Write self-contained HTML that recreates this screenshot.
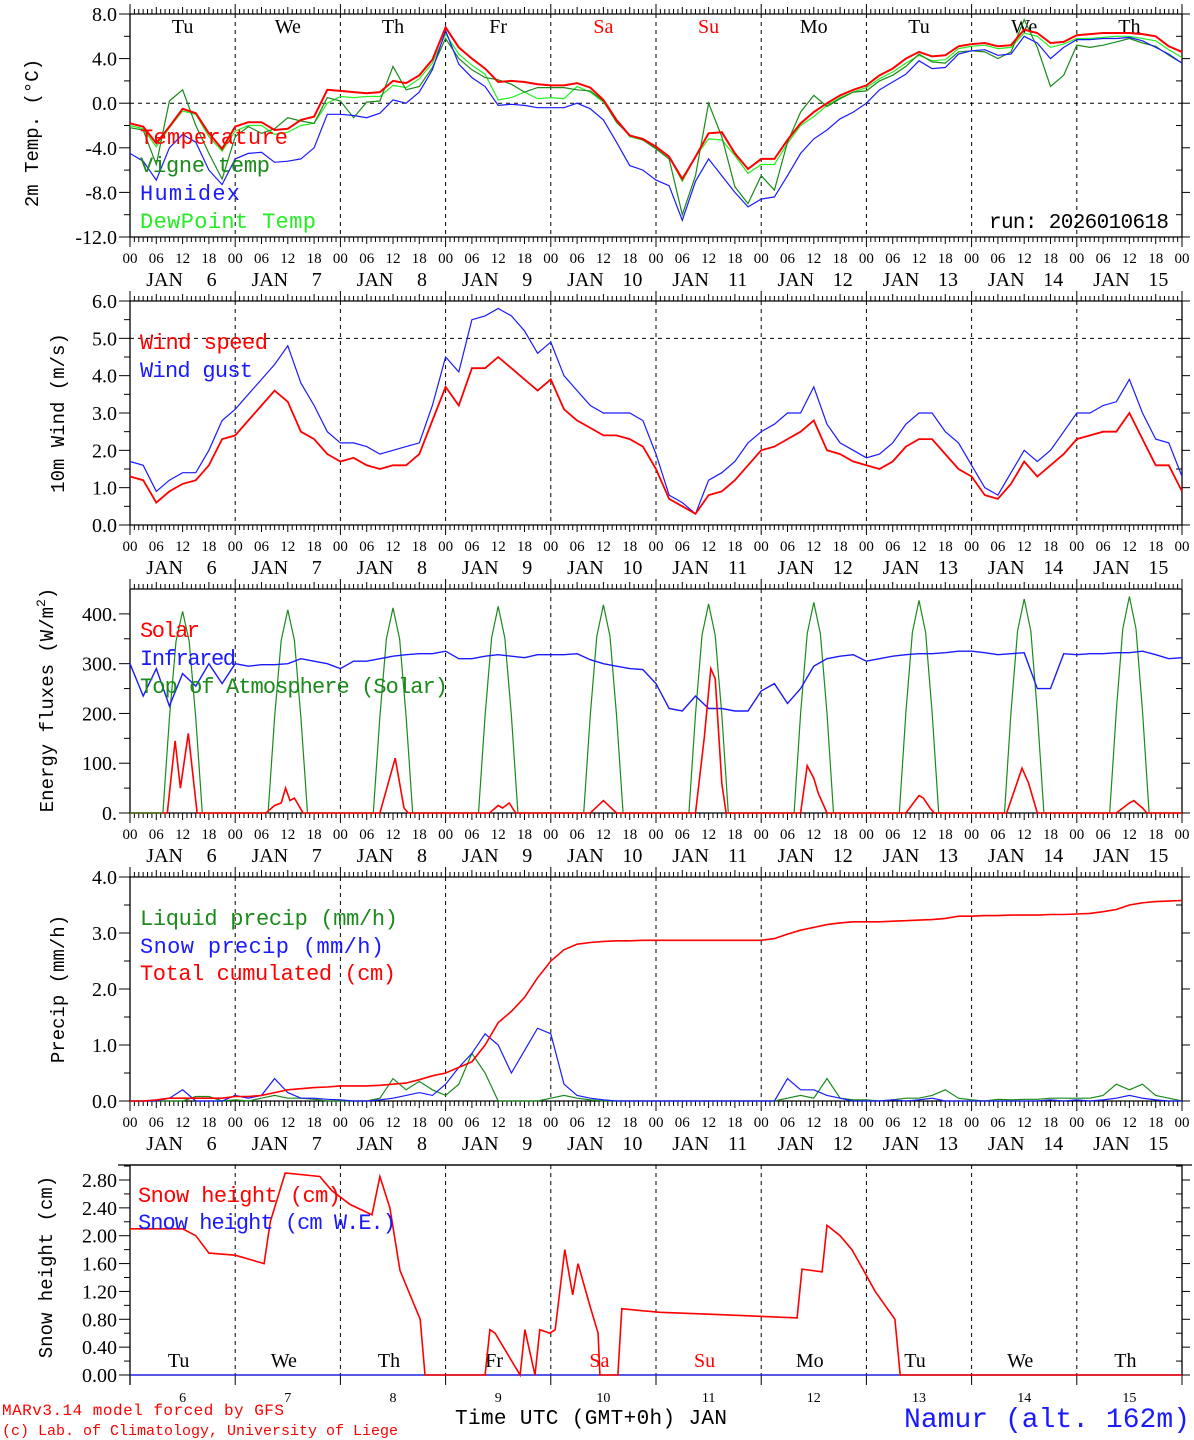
<!DOCTYPE html>
<html><head><meta charset="utf-8"><style>
html,body{margin:0;padding:0;background:#fff;}
svg{display:block;font-family:"Liberation Serif","DejaVu Serif",serif;}
.mono{font-family:"Liberation Mono","DejaVu Sans Mono",monospace;}
</style></head><body>
<svg id="c" width="1194" height="1440" viewBox="0 0 1194 1440"></svg>
<script>
// ===== DATA (3-hourly, Jan 6 00h .. Jan 16 00h, 81 values) =====
const days = [6,7,8,9,10,11,12,13,14,15];
const weekdays = ["Tu","We","Th","Fr","Sa","Su","Mo","Tu","We","Th"];
const tempRed = [-1.8,-2.1,-3.6,-2.1,-0.5,-0.9,-2.7,-4.1, -2.1,-1.7,-1.7,-2.4,-2.3,-1.5,-1.2,1.2, 1.1,1.0,0.9,1.0,2.0,1.8,2.5,3.9, 6.8,5.0,4.0,3.1,1.9,2.0,1.9,1.7, 1.6,1.6,1.8,1.4,0.3,-1.5,-2.9,-3.2, -3.9,-4.8,-6.8,-4.8,-2.7,-2.6,-4.5,-5.9, -5.0,-5.0,-3.3,-1.8,-0.8,0.0,0.7,1.2, 1.6,2.5,3.1,4.0,4.6,4.2,4.3,5.1, 5.3,5.4,5.1,5.2,6.6,6.3,5.4,5.5, 6.1,6.2,6.3,6.3,6.3,6.2,6.0,5.1, 4.6];
const tempVigne = [-2.2,-2.4,-5.5,0.2,1.2,-2.0,-4.5,-6.8, -3.0,-2.1,-2.7,-2.3,-1.3,-1.6,-1.8,0.5, 0.2,-1.3,0.1,0.2,3.3,1.2,1.5,3.2, 5.8,4.0,3.0,2.3,2.1,1.7,1.0,1.4, 1.4,1.4,1.2,1.1,0.2,-1.7,-2.9,-3.3, -4.1,-5.0,-10.0,-6.5,0.0,-3.0,-7.5,-9.0, -6.5,-7.8,-3.5,-0.8,0.7,-0.3,0.4,1.0, 1.1,2.0,2.5,3.3,4.4,3.7,3.6,4.6, 4.7,4.6,4.0,4.6,7.5,5.0,1.5,2.5, 5.2,5.0,5.2,5.5,5.8,5.4,5.1,4.3, 3.6];
const humidex = [-4.5,-5.2,-6.9,-4.0,-2.8,-3.5,-6.0,-7.3, -5.0,-4.5,-4.4,-5.3,-5.2,-5.0,-4.0,-1.0, -1.0,-1.1,-1.3,-0.9,0.3,0.0,1.0,3.0, 6.5,3.5,2.3,1.5,-0.2,-0.1,-0.2,-0.4, -0.4,-0.4,0.0,-0.5,-1.5,-3.5,-5.6,-6.0, -6.9,-7.4,-10.5,-7.0,-5.0,-6.5,-8.0,-9.3, -8.6,-8.4,-6.5,-4.5,-3.2,-2.4,-1.4,-0.8, 0.0,1.2,1.9,2.6,3.8,3.1,3.2,4.4, 4.7,4.8,4.3,4.4,6.0,5.4,4.0,5.0, 5.7,5.7,5.8,5.8,5.9,5.6,5.0,4.4, 3.6];
const dewPoint = [-2.0,-2.3,-3.9,-2.2,-0.7,-1.0,-3.0,-4.3, -2.5,-2.0,-2.0,-2.8,-2.6,-2.0,-1.8,0.0, 0.6,0.5,0.6,0.6,1.6,1.4,2.2,3.6, 6.2,4.4,3.4,2.6,0.3,0.5,1.0,0.4, 0.5,0.4,1.5,1.0,0.1,-1.5,-3.0,-3.3, -4.0,-4.8,-7.0,-4.8,-3.2,-3.3,-4.7,-6.3, -5.5,-5.5,-3.6,-2.0,-1.2,-0.2,0.5,1.0, 1.4,2.2,2.8,3.6,4.3,3.8,3.9,4.9, 5.1,5.2,4.9,5.0,6.3,6.0,5.0,5.3, 5.8,5.8,5.9,6.0,6.0,5.8,5.6,4.8, 4.1];
const windSpeed = [1.3,1.2,0.6,0.9,1.1,1.2,1.6,2.3, 2.4,2.8,3.2,3.6,3.3,2.5,2.3,1.9, 1.7,1.8,1.6,1.5,1.6,1.6,1.9,2.8, 3.7,3.2,4.2,4.2,4.5,4.2,3.9,3.6, 3.9,3.1,2.8,2.6,2.4,2.4,2.3,2.1, 1.5,0.7,0.5,0.3,0.8,0.9,1.2,1.6, 2.0,2.1,2.3,2.5,2.8,2.0,1.9,1.7, 1.6,1.5,1.7,2.1,2.3,2.3,1.9,1.5, 1.3,0.8,0.7,1.1,1.7,1.3,1.6,1.9, 2.3,2.4,2.5,2.5,3.0,2.3,1.6,1.6, 0.9];
const windGust = [1.7,1.6,0.9,1.2,1.4,1.4,2.0,2.8, 3.1,3.5,3.9,4.3,4.8,3.8,3.2,2.5, 2.2,2.2,2.1,1.9,2.0,2.1,2.2,3.2, 4.5,4.1,5.5,5.6,5.8,5.6,5.2,4.6, 4.9,4.0,3.6,3.2,3.0,3.0,3.0,2.8, 1.9,0.8,0.6,0.3,1.2,1.4,1.7,2.2, 2.5,2.7,3.0,3.0,3.7,2.7,2.2,2.0, 1.8,1.9,2.2,2.7,3.0,3.0,2.5,2.2, 1.6,1.0,0.8,1.4,2.0,1.7,2.0,2.5, 3.0,3.0,3.2,3.3,3.9,3.0,2.3,2.2, 1.3];
const infrared = [300,235,290,215,280,255,300,260, 300,295,298,298,300,310,305,300, 290,305,305,310,315,318,320,320, 325,310,310,315,318,315,312,318, 318,318,320,308,300,295,290,288, 260,210,205,235,210,210,205,205, 245,260,220,250,295,310,315,318, 305,310,315,318,320,320,322,325, 325,322,318,320,322,250,250,320, 318,320,320,322,322,325,318,310, 312];
const toaHours = [7.5,9,10.5,12,13.5,15,16.5, 31.5,33,34.5,36,37.5,39,40.5, 55.5,57,58.5,60,61.5,63,64.5, 79.5,81,82.5,84,85.5,87,88.5, 103.5,105,106.5,108,109.5,111,112.5, 127.5,129,130.5,132,133.5,135,136.5, 151.5,153,154.5,156,157.5,159,160.5, 175.5,177,178.5,180,181.5,183,184.5, 199.5,201,202.5,204,205.5,207,208.5, 223.5,225,226.5,228,229.5,231,232.5];
const toaValues = [0,190,345,405,345,190,0, 0,192,347,408,347,192,0, 0,194,350,412,350,194,0, 0,196,352,415,352,196,0, 0,197,355,418,355,197,0, 0,198,357,420,357,198,0, 0,200,360,423,360,200,0, 0,202,363,427,363,202,0, 0,203,366,430,366,203,0, 0,205,370,435,370,205,0];
const solarHours = [0,8.5,10.3,11.5,13.3,15.3, 31,33,34.5,35.5,36.5,37.5,39.5, 57,60.5,62.5,63.5, 82,84,85,86.5,88, 105,108,111, 129,131,132.5,133.5,135,136, 153,154.5,156,157,158.5,159, 177,180,181,182.5,183.5, 200,203.5,205,207, 225,228,229,231,232,240];
const solarValues = [0,0,145,50,160,0, 0,15,20,50,25,30,0, 0,110,10,0, 0,15,10,20,0, 0,25,0, 0,150,290,270,60,0, 0,95,70,40,10,0, 0,35,30,10,0, 0,90,60,0, 0,20,25,10,0,0];
const liquidPrecip = [0,0,0,0,0,0.08,0.08,0, 0.02,0,0.05,0.1,0.05,0.05,0.03,0, 0,0,0,0.05,0.4,0.2,0.35,0.2, 0.1,0.3,0.85,0.5,0,0,0,0, 0.05,0.1,0.05,0.02,0,0,0,0, 0,0,0,0,0,0,0,0, 0,0,0.05,0.1,0.05,0.4,0.05,0.02, 0.02,0,0.02,0.05,0.05,0.1,0.2,0.05, 0.02,0,0.03,0.02,0.03,0.03,0.05,0.05, 0.05,0.05,0.1,0.3,0.2,0.3,0.1,0.05, 0];
const snowPrecip = [0,0,0,0.05,0.2,0,0,0, 0.1,0.05,0.1,0.4,0.15,0.05,0.05,0.03, 0.02,0,0,0.02,0.05,0.1,0.15,0.1, 0.3,0.6,0.85,1.2,1.0,0.5,0.9,1.3, 1.2,0.3,0.1,0.05,0.02,0,0,0, 0,0,0,0,0,0,0,0, 0,0,0.4,0.2,0.2,0.1,0.05,0, 0,0,0.02,0,0.02,0.05,0,0, 0,0,0,0,0,0,0.02,0, 0.02,0,0.02,0.05,0.1,0.05,0.02,0, 0];
const totalCum = [0,0,0.02,0.05,0.05,0.05,0.05,0.05, 0.08,0.08,0.1,0.15,0.2,0.22,0.24,0.25, 0.27,0.27,0.27,0.28,0.3,0.32,0.38,0.45, 0.5,0.6,0.7,1.0,1.4,1.6,1.85,2.2, 2.5,2.7,2.8,2.83,2.85,2.86,2.86,2.87, 2.87,2.87,2.87,2.87,2.87,2.87,2.87,2.87, 2.87,2.9,2.98,3.05,3.1,3.15,3.18,3.2, 3.2,3.2,3.21,3.22,3.23,3.24,3.26,3.3, 3.3,3.31,3.31,3.32,3.32,3.32,3.33,3.33, 3.34,3.35,3.38,3.42,3.5,3.54,3.56,3.57, 3.58];
const snowHours = [0,12,15,18,24,30.6,32,35.4,43.3,46,50.2,55.2,57,59.3,61.6,66.2,67.3,81,82.1,83.3,89,90.1,92.4,93.5,95.8,97,99.2,101,102.2,104.9,106.8,107.2,111.3,112.2,120.9,133.5,152.2,153.3,157.9,159,162,164.7,166.5,170,174.5,175.7,240];
const snowHeight = [2.1,2.1,2.0,1.75,1.72,1.6,2.2,2.9,2.85,2.65,2.45,2.3,2.85,2.4,1.5,0.8,0,0,0.65,0.6,0,0.65,0,0.65,0.6,0.65,1.8,1.15,1.6,1.0,0.6,0,0,0.95,0.9,0.87,0.82,1.52,1.48,2.15,2.0,1.8,1.6,1.2,0.8,0,0];
const snowWE = [0,0];
const snowWEHours = [0,240];

// ===== DRAWING =====
const NS = "http://www.w3.org/2000/svg";
const svg = document.getElementById("c");
const X0 = 130, X1 = 1182;
function xH(h){ return X0 + h*(X1-X0)/240; }
function mk(tag, attrs, parent){
  const e = document.createElementNS(NS, tag);
  for (const k in attrs) e.setAttribute(k, attrs[k]);
  (parent||svg).appendChild(e);
  return e;
}
function txt(x,y,s,size,fill,anchor,parent){
  const t = mk("text",{x:x,y:y,"font-size":size,fill:fill||"#000","text-anchor":anchor||"start"},parent);
  t.textContent = s;
  return t;
}
function yScale(top,bottom,vmin,vmax){ return v => bottom - (v-vmin)*(bottom-top)/(vmax-vmin); }

function series3h(g, vals, ys, color, w, name){
  let d = "";
  vals.forEach((v,i)=>{ d += (i?"L":"M") + xH(i*3).toFixed(1) + "," + ys(v).toFixed(1); });
  const p = mk("path",{d:d,fill:"none",stroke:color,"stroke-width":w},g);
  
  
}
function seriesXY(g, hrs, vals, ys, color, w, name){
  let d = "";
  vals.forEach((v,i)=>{ d += (i?"L":"M") + xH(hrs[i]).toFixed(1) + "," + ys(v).toFixed(1); });
  const p = mk("path",{d:d,fill:"none",stroke:color,"stroke-width":w},g);
  
  
}

function frame(g, top, bottom, ys, majors, fmt, minors, timeTicks){
  for (let d=1; d<10; d++){
    const l = mk("line",{x1:xH(d*24),x2:xH(d*24),y1:top,y2:bottom,stroke:"#000","stroke-width":1,"stroke-dasharray":"4,4"},g);
    
    
  }
  mk("line",{x1:X0,x2:X1,y1:top,y2:top,stroke:"#000","stroke-width":1.3},g);
  mk("line",{x1:X0,x2:X1,y1:bottom,y2:bottom,stroke:"#000","stroke-width":1.3},g);
  mk("line",{x1:X0,x2:X0,y1:top,y2:bottom+(timeTicks?0:10),stroke:"#000","stroke-width":1.3},g);
  mk("line",{x1:X1,x2:X1,y1:top,y2:bottom,stroke:"#000","stroke-width":1.3},g);
  if (timeTicks){
    for (let h=0; h<=240; h++){
      const L = h%24===0 ? 10 : (h%6===0 ? 7 : 5);
      mk("line",{x1:xH(h),x2:xH(h),y1:top,y2:top-L,stroke:"#000","stroke-width":1},g);
      mk("line",{x1:xH(h),x2:xH(h),y1:bottom,y2:bottom+L,stroke:"#000","stroke-width":1},g);
    }
  } else {
    mk("line",{x1:118,x2:X1+10,y1:top,y2:top,stroke:"#000","stroke-width":1.3},g);
    for (let d=0; d<=10; d++) mk("line",{x1:xH(d*24),x2:xH(d*24),y1:bottom,y2:bottom+10,stroke:"#000","stroke-width":1},g);
  }
  const ax = mk("g",{},g);
  
  
  majors.forEach(v=>{
    const y = ys(v);
    mk("line",{x1:X0-11,x2:X0,y1:y,y2:y,stroke:"#000","stroke-width":1},ax);
    mk("line",{x1:X1,x2:X1+8,y1:y,y2:y,stroke:"#000","stroke-width":1},ax);
    const t = txt(X0-13, y+7, fmt(v), 20, "#000", "end", ax);
    
    
  });
  minors.forEach(v=>{
    const y = ys(v);
    mk("line",{x1:X0-6,x2:X0,y1:y,y2:y,stroke:"#000","stroke-width":1},ax);
    mk("line",{x1:X1-6,x2:X1,y1:y,y2:y,stroke:"#000","stroke-width":1},ax);
  });
}
function timeLabels(g, bottom){
  const xa = mk("g",{},g);
  
  
  for (let h=0; h<=240; h+=6){
    txt(xH(h), bottom+26, String(h%24).padStart(2,"0"), 15, "#000", "middle", xa);
  }
  days.forEach((d,i)=>{
    const cx = xH(i*24+12);
    txt(cx-18, bottom+49, "JAN", 20, "#000", "middle", xa);
    txt(cx+29, bottom+49, String(d), 20, "#000", "middle", xa);
  });
}
function yTitle(g, x, cy, s){
  const t = mk("text",{x:0,y:0,"font-size":19,fill:"#000","text-anchor":"middle",class:"mono",transform:`translate(${x},${cy}) rotate(-90)`},g);
  t.textContent = s;
  
  
  return t;
}
function legend(g, x, y, s, color, w){
  const t = txt(x, y, s, 22, color, "start", g);
  t.setAttribute("class","mono");
  t.setAttribute("textLength", w);
  
  
}
function mkPanel(name){
  const g = mk("g",{});
  
  
  return g;
}

// ---- Panel 1: temperature ----
(function(){
  const g = mkPanel("temperature-panel");
  const top=14,bottom=237, ys=yScale(top,bottom,-12,8);
  mk("line",{x1:X0,x2:X1,y1:ys(0),y2:ys(0),stroke:"#000","stroke-width":1,"stroke-dasharray":"4,4"},g);
  frame(g,top,bottom,ys,[8,4,0,-4,-8,-12],v=>v.toFixed(1),[6,2,-2,-6,-10],true);
  weekdays.forEach((w,i)=>{
    const t = txt(xH(i*24+12), 33, w, 20, (w==="Sa"||w==="Su")?"#ff0000":"#000", "middle", g);
    
    
  });
  series3h(g, dewPoint, ys, "#22ee22", 1.2, "dewpoint-line");
  series3h(g, tempVigne, ys, "#1a8a1a", 1.2, "vigne-temp-line");
  series3h(g, humidex, ys, "#1a1aff", 1.2, "humidex-line");
  series3h(g, tempRed, ys, "#ff0000", 2, "temperature-line");
  legend(g,140,144,"Temperature","#ff0000",148);
  legend(g,140,172,"Vigne temp","#1a8a1a",130);
  legend(g,140,200,"Humidex","#1a1aff",100);
  legend(g,140,228,"DewPoint Temp","#22ee22",176);
  const r = txt(1169,228,"run: 2026010618",21,"#000","end",g);
  r.setAttribute("class","mono");
  r.setAttribute("textLength",180);
  
  
  yTitle(g,38,133,"2m Temp. (°C)");
  timeLabels(g,bottom);
})();

// ---- Panel 2: wind ----
(function(){
  const g = mkPanel("wind-panel");
  const top=301,bottom=525, ys=yScale(top,bottom,0,6);
  mk("line",{x1:X0,x2:X1,y1:ys(5),y2:ys(5),stroke:"#000","stroke-width":1,"stroke-dasharray":"4,4"},g);
  frame(g,top,bottom,ys,[0,1,2,3,4,5,6],v=>v.toFixed(1),[0.5,1.5,2.5,3.5,4.5,5.5],true);
  series3h(g, windGust, ys, "#1a1aff", 1.2, "wind-gust-line");
  series3h(g, windSpeed, ys, "#ff0000", 1.8, "wind-speed-line");
  legend(g,140,349,"Wind speed","#ff0000",128);
  legend(g,140,377,"Wind gust","#1a1aff",113);
  yTitle(g,64,413,"10m Wind (m/s)");
  timeLabels(g,bottom);
})();

// ---- Panel 3: energy ----
(function(){
  const g = mkPanel("energy-panel");
  const top=589,bottom=813, ys=yScale(top,bottom,0,450);
  frame(g,top,bottom,ys,[0,100,200,300,400],v=>v.toFixed(0)+".",[50,150,250,350],true);
  seriesXY(g, toaHours.concat([240]), toaValues.concat([0]), ys, "#1a8a1a", 1.2, "toa-solar-line");
  series3h(g, infrared, ys, "#1a1aff", 1.4, "infrared-line");
  seriesXY(g, solarHours, solarValues, ys, "#ff0000", 1.6, "solar-line");
  mk("line",{x1:X0,x2:xH(7.5),y1:ys(0),y2:ys(0),stroke:"#1a8a1a","stroke-width":1.2},g);
  legend(g,140,637,"Solar","#ff0000",60);
  legend(g,140,665,"Infrared","#1a1aff",96);
  legend(g,140,693,"Top of Atmosphere (Solar)","#1a8a1a",308);
  const t = mk("text",{x:0,y:0,"font-size":19,fill:"#000","text-anchor":"middle",class:"mono",transform:"translate(53,700) rotate(-90)"},g);
  
  
  t.innerHTML = 'Energy fluxes (W/m<tspan font-size="13" dy="-8">2</tspan><tspan dy="8">)</tspan>';
  timeLabels(g,bottom);
})();

// ---- Panel 4: precipitation ----
(function(){
  const g = mkPanel("precip-panel");
  const top=877,bottom=1101, ys=yScale(top,bottom,0,4);
  frame(g,top,bottom,ys,[0,1,2,3,4],v=>v.toFixed(1),[0.5,1.5,2.5,3.5],true);
  series3h(g, liquidPrecip, ys, "#1a8a1a", 1.2, "liquid-precip-line");
  series3h(g, snowPrecip, ys, "#1a1aff", 1.2, "snow-precip-line");
  series3h(g, totalCum, ys, "#ff0000", 1.6, "total-cumulated-line");
  legend(g,140,925,"Liquid precip (mm/h)","#1a8a1a",258);
  legend(g,140,953,"Snow precip (mm/h)","#1a1aff",244);
  legend(g,140,980,"Total cumulated (cm)","#ff0000",256);
  yTitle(g,64,989,"Precip (mm/h)");
  timeLabels(g,bottom);
})();

// ---- Panel 5: snow height ----
(function(){
  const g = mkPanel("snow-panel");
  const top=1165,bottom=1375, ys=yScale(1180,bottom,0,2.8);
  frame(g,top,bottom,ys,[0,0.4,0.8,1.2,1.6,2.0,2.4,2.8],v=>v.toFixed(2),[0.2,0.6,1.0,1.4,1.8,2.2,2.6,3.0],false);
  weekdays.forEach((w,i)=>{
    const t = txt(xH(i*24+12)-4, 1367, w, 20, (w==="Sa"||w==="Su")?"#ff0000":"#000", "middle", g);
    
    
  });
  seriesXY(g, snowWEHours, snowWE, ys, "#1a1aff", 1.2, "snow-we-line");
  seriesXY(g, snowHours, snowHeight, ys, "#ff0000", 1.6, "snow-height-line");
  legend(g,138,1202,"Snow height (cm)","#ff0000",203);
  legend(g,138,1229,"Snow height (cm W.E.)","#1a1aff",258);
  yTitle(g,52,1267,"Snow height (cm)");
  days.forEach((d,i)=>{ txt(xH(i*24+12), 1402, String(d), 14, "#000", "middle", g); });
  const xt = txt(591,1424,"Time UTC (GMT+0h) JAN",21,"#000","middle",g);
  xt.setAttribute("class","mono");
  xt.setAttribute("textLength",272);
  
  
})();

// ---- footer ----
const f1 = txt(2,1415,"MARv3.14 model forced by GFS",16,"#ff0000","start");
f1.setAttribute("class","mono");
f1.setAttribute("textLength",282);


const f2 = txt(2,1435,"(c) Lab. of Climatology, University of Liege",15,"#ff0000","start");
f2.setAttribute("class","mono");
f2.setAttribute("textLength",396);


const loc = txt(1190,1427,"Namur (alt. 162m)",28,"#1a1aff","end");
loc.setAttribute("class","mono");
loc.setAttribute("textLength",286);


</script>
</body></html>
